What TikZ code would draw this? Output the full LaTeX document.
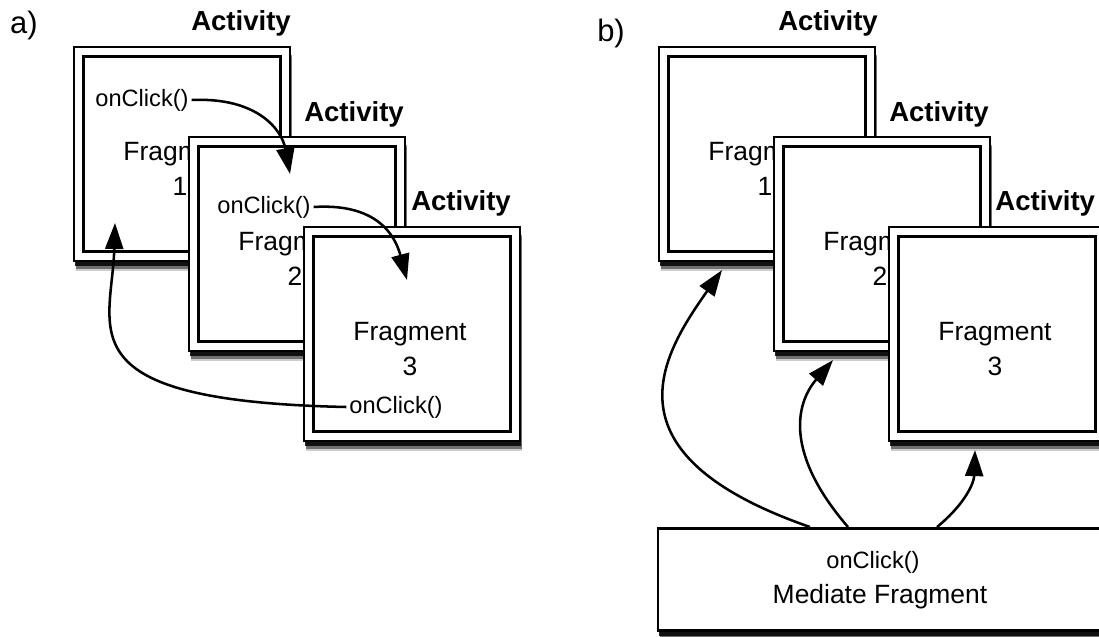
\documentclass[tikz,border=0pt]{standalone}
\usepackage{fontspec}
\setmainfont{Liberation Sans}
\usepackage{tikz}
\usetikzlibrary{arrows.meta,positioning,calc,shadows}
\newcommand{\fragfont}{\fontsize{18.8}{25.2}\selectfont}
\newcommand{\clickfont}{\fontsize{16.8}{19}\selectfont}
\newcommand{\partfont}{\fontsize{22}{26}\selectfont}
\tikzset{
  softshadow/.style={
    drop shadow={shadow xshift=1.5pt, shadow yshift=-7pt, fill=black, opacity=0.2},
    drop shadow={shadow xshift=1.2pt, shadow yshift=-5.6pt, fill=black, opacity=0.45},
    drop shadow={shadow xshift=0.9pt, shadow yshift=-4pt, fill=black, opacity=0.85}},
  actbox/.style={draw, line width=1.8pt, fill=white,
    minimum width=5.39cm, minimum height=5.34cm, inner sep=0pt, softshadow,
    path picture={\draw[line width=1.8pt]
      ([shift={(9.5,9.5)}]path picture bounding box.north west) rectangle
      ([shift={(-9.5,-9.5)}]path picture bounding box.south east);}},
  medbox/.style={draw, line width=1.8pt, fill=white, minimum width=11.09cm, minimum height=2.56cm,
    inner sep=0pt, softshadow},
  fragtxt/.style={align=center, font=\fragfont, inner sep=0pt},
  clicktxt/.style={font=\clickfont, inner sep=2pt},
  actlabel/.style={font=\fontsize{19.6}{23}\selectfont\bfseries, inner sep=0pt},
  call/.style={-{Triangle[length=0.65cm,width=0.45cm]}, line width=1.8pt},
}

\begin{document}
\begin{tikzpicture}[x=0.025cm, y=-0.025cm]
\useasboundingbox (0,0) rectangle (1099,637);
\node[font=\partfont, inner sep=0pt] (pa) at (24,25) {a)};
\node[font=\partfont, inner sep=0pt] (pb) at (611,33) {b)};

% a) fragments talk to each other
\foreach \i/\x/\y in {1/182/154, 2/297/244, 3/412/334} {
  \node[actbox] (a\i) at (\x,\y) {};
  \node[fragtxt] (ta\i) at ($(a\i)+(-2,15)$) {Fragment\\\i};
}
\node[actlabel, above left=0.24cm and 0cm of a1.north east] (la1) {Activity};
\node[actlabel, above left=0.22cm and 0.05cm of a2.north east] (la2) {Activity};
\node[actlabel, above left=0.24cm and 0.25cm of a3.north east] (la3) {Activity};
\node[clicktxt] (c1) at (142,100) {onClick()};
\node[clicktxt] (c2) at (264,207) {onClick()};
\node[clicktxt] (c3) at (396,407) {onClick()};
\coordinate (in1) at ($(a1)+(-67,69)$);
\coordinate (in2) at ($(a2)+(-7,-70)$);
\coordinate (in3) at ($(a3)+(-5,-54)$);
\draw[call] (c1.east) .. controls +(66,-3) and +(-8,-44) .. (in2);
\draw[call] (c2.east) .. controls +(63,-4) and +(-12,-45) .. (in3);
\draw[call] (c3.west) .. controls +(-285,-6) and +(-3,107) .. (in1);

% b) a mediate fragment does the calls
\foreach \i/\x/\y in {1/767/154, 2/882/244, 3/997/334} {
  \node[actbox] (b\i) at (\x,\y) {};
  \node[fragtxt] (tb\i) at ($(b\i)+(-2,15)$) {Fragment\\\i};
}
\node[actlabel, above left=0.24cm and -0.05cm of b1.north east] (lb1) {Activity};
\node[actlabel, above left=0.22cm and 0.05cm of b2.north east] (lb2) {Activity};
\node[actlabel, above left=0.24cm and 0.27cm of b3.north east] (lb3) {Activity};
\node[medbox] (med) at (880,579.5) {};
\node[clicktxt] (mc) at (873,562) {onClick()};
\node[fragtxt] (mn) at (880,597) {Mediate Fragment};
\draw[call] ($(med.north)+(-70,0)$) .. controls +(-210,-73) and +(-60,85) .. ($(b1.south)+(-45,8)$);
\draw[call] ($(med.north)+(-32,0)$) .. controls +(-63,-73) and +(-38,44) .. ($(b2.south)+(-49,8)$);
\draw[call] ($(med.north)+(57,0)$) .. controls +(28,-23) and +(-1,33) .. ($(b3.south)+(-22,8)$);
\end{tikzpicture}
\end{document}
